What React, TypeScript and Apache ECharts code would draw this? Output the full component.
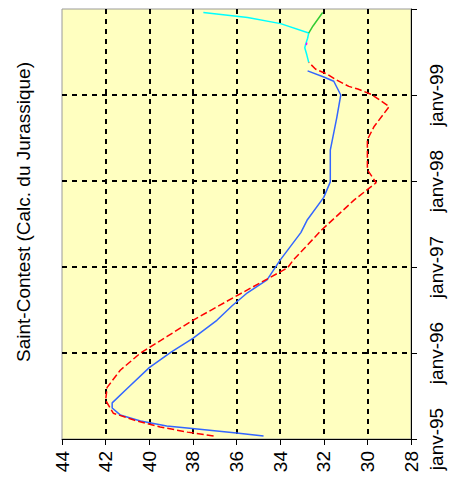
import React, { useEffect, useRef } from "react";
import * as echarts from "echarts";

// Time in decimal years, level values
const blueTime = [1995.035, 1995.07, 1995.116, 1995.15, 1995.21, 1995.28, 1995.36, 1995.42, 1995.59, 1995.83, 1996.01, 1996.17, 1996.38, 1996.55, 1996.70, 1996.85, 1997.08, 1997.40, 1997.55, 1997.81, 1997.99, 1998.36, 1998.74, 1999.0, 1999.16, 1999.21, 1999.28];
const blueLevel = [34.76, 36.0, 37.8, 39.2, 40.4, 41.33, 41.7, 41.7, 41.0, 40.0, 39.0, 38.0, 36.9, 36.2, 35.5, 34.6, 34.0, 33.05, 32.75, 32.0, 31.7, 31.7, 31.4, 31.22, 31.54, 32.0, 32.74];

const redTime = [1995.035, 1995.08, 1995.14, 1995.22, 1995.30, 1995.45, 1995.60, 1995.80, 1996.0, 1996.19, 1996.38, 1996.65, 1996.99, 1997.08, 1997.43, 1997.78, 1997.98, 1998.13, 1998.36, 1998.48, 1998.63, 1998.865, 1999.005, 1999.07, 1999.10, 1999.18, 1999.24, 1999.30, 1999.38];
const redLevel = [37.05, 38.25, 39.5, 40.7, 41.65, 42.0, 41.93, 41.33, 40.4, 39.2, 38.0, 36.1, 33.66, 33.4, 32.1, 30.6, 29.6, 30.0, 30.0, 30.0, 29.7, 29.0, 29.8, 30.44, 30.85, 31.45, 31.82, 32.37, 32.69];

const cyanTime = [1999.38, 1999.47, 1999.55, 1999.59, 1999.66, 1999.72, 1999.83, 1999.90, 1999.96];
const cyanLevel = [32.69, 32.78, 32.87, 32.83, 32.74, 32.69, 33.98, 35.49, 37.52];

const greenTime = [1999.72, 1999.80, 1999.96];
const greenLevel = [32.69, 32.5, 32.05];

const magentaTime = [1999.58, 1999.61];
const magentaLevel = [32.8, 32.78];

const levelTicks = { min: 28, max: 44, step: 2 };
const yearTicks = { min: 1995, max: 2000, step: 1 };
const title = "Saint-Contest (Calc. du Jurassique)";

const FONT = "'Liberation Sans', Arial, sans-serif";

function pairs(levels: number[], times: number[]) {
  return levels.map((v, i) => [v, times[i]]);
}

export default function App() {
  const ref = useRef<HTMLDivElement>(null);
  useEffect(() => {
    if (!ref.current) return;
    const chart = echarts.init(ref.current, null, { renderer: "svg" });
    const nx = (levelTicks.max - levelTicks.min) / levelTicks.step + 1;
    const ny = (yearTicks.max - yearTicks.min) / yearTicks.step + 1;
    const xSplitColors = Array.from({ length: nx }, (_, i) => (i === 0 || i === nx - 1 ? "transparent" : "#000"));
    const ySplitColors = Array.from({ length: ny }, (_, i) => (i === 0 || i === ny - 1 ? "transparent" : "#000"));
    const line = (name: string, data: number[][], color: string, dashed = false) => ({
      name,
      type: "line",
      data,
      symbol: "none",
      smooth: false,
      lineStyle: { color, width: 1.5, type: dashed ? [7, 3] : "solid" },
      z: 3,
    });
    chart.setOption({
      animation: false,
      backgroundColor: "#fff",
      grid: {
        left: 62,
        right: 55,
        top: 9,
        bottom: 41,
        show: true,
        backgroundColor: "#FFFFC0",
        borderColor: "#9a9a9a",
        borderWidth: 1,
      },
      xAxis: {
        type: "value",
        min: levelTicks.min,
        max: levelTicks.max,
        interval: levelTicks.step,
        inverse: true,
        position: "bottom",
        axisLine: { show: true, lineStyle: { color: "#000", width: 1 } },
        axisTick: { show: true, length: 6, lineStyle: { color: "#000" } },
        axisLabel: { rotate: 90, fontSize: 19, fontFamily: FONT, color: "#000", margin: 12 },
        splitLine: { show: true, lineStyle: { color: xSplitColors, width: 2, type: [5, 5] } },
      },
      yAxis: {
        type: "value",
        min: yearTicks.min,
        max: yearTicks.max,
        interval: yearTicks.step,
        position: "right",
        axisLine: { show: true, lineStyle: { color: "#000", width: 1 } },
        axisTick: { show: true, length: 6, lineStyle: { color: "#000" } },
        axisLabel: {
          rotate: 90,
          fontSize: 19,
          fontFamily: FONT,
          color: "#000",
          margin: 16,
          formatter: (v: number) => (v >= yearTicks.max ? "" : "janv-" + String(Math.round(v)).slice(2)),
        },
        splitLine: { show: true, lineStyle: { color: ySplitColors, width: 2, type: [5, 5] } },
      },
      graphic: [
        {
          type: "text",
          x: 23,
          y: 212,
          rotation: Math.PI / 2,
          style: {
            text: title,
            fontSize: 19,
            fontFamily: FONT,
            fill: "#000",
            align: "center",
            verticalAlign: "middle",
          },
        },
      ],
      series: [
        line("blue", pairs(blueLevel, blueTime), "#3366FF"),
        line("red", pairs(redLevel, redTime), "#FF0000", true),
        line("cyan", pairs(cyanLevel, cyanTime), "#00FFFF"),
        line("green", pairs(greenLevel, greenTime), "#33CC33"),
        line("magenta", pairs(magentaLevel, magentaTime), "#FF00FF"),
      ],
    });
    return () => chart.dispose();
  }, []);
  return (
    <div
      ref={ref}
      style={{ position: "absolute", left: 0, top: 0, width: 466, height: 480 }}
    />
  );
}
